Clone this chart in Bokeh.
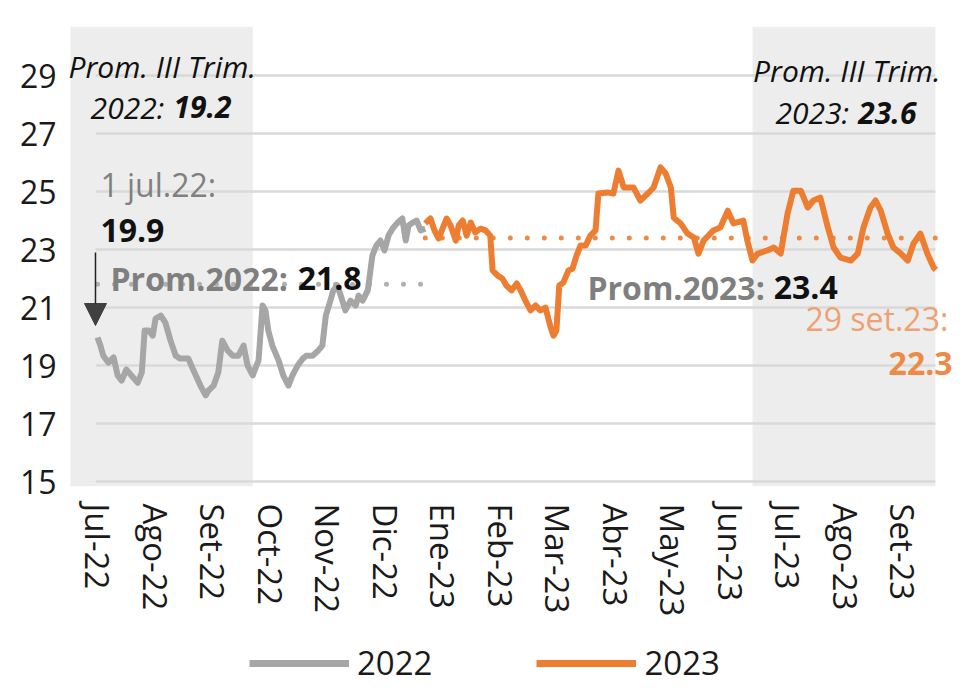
from bokeh.plotting import figure
from bokeh.layouts import column
from bokeh.models import (BoxAnnotation, Label, Arrow, NormalHead, Legend, LegendItem,
                          FixedTicker, Range1d)
from bokeh.embed import file_html
from bokeh.resources import INLINE

# ---------------- data ----------------
# x = months since Jul-2022 (tick i = month label i)
month_labels = ["Jul-22", "Ago-22", "Set-22", "Oct-22", "Nov-22", "Dic-22", "Ene-23", "Feb-23",
                "Mar-23", "Abr-23", "May-23", "Jun-23", "Jul-23", "Ago-23", "Set-23"]
y_ticks = [15, 17, 19, 21, 23, 25, 27, 29]

x_2022 = [0.00, 0.05, 0.10, 0.19, 0.28, 0.35, 0.42, 0.50, 0.59, 0.70, 0.77, 0.82, 0.89, 0.96,
          1.01, 1.10, 1.18, 1.27, 1.36, 1.44, 1.58, 1.67, 1.79, 1.88, 1.93, 2.02, 2.10, 2.17,
          2.26, 2.35, 2.45, 2.54, 2.61, 2.70, 2.75, 2.80, 2.87, 2.92, 2.97, 3.04, 3.15, 3.23,
          3.32, 3.39, 3.48, 3.57, 3.63, 3.74, 3.84, 3.91, 3.97, 4.05, 4.10, 4.17, 4.23, 4.31,
          4.40, 4.49, 4.54, 4.61, 4.70, 4.78, 4.85, 4.92, 4.99, 5.06, 5.13, 5.22, 5.30, 5.36,
          5.41, 5.48, 5.55, 5.62, 5.70]
v_2022 = [19.97, 19.69, 19.34, 19.10, 19.28, 18.66, 18.48, 18.86, 18.66, 18.41, 18.76, 20.21,
          20.21, 20.03, 20.62, 20.72, 20.48, 19.86, 19.34, 19.24, 19.24, 18.83, 18.31, 17.97,
          18.14, 18.31, 18.76, 19.86, 19.52, 19.34, 19.34, 19.69, 19.00, 18.66, 18.93, 19.17,
          21.07, 20.90, 20.21, 19.69, 19.17, 18.66, 18.31, 18.66, 19.00, 19.24, 19.34, 19.34,
          19.52, 19.69, 20.72, 21.24, 21.59, 21.76, 21.41, 20.90, 21.24, 21.07, 21.41, 21.24,
          21.59, 22.79, 23.14, 23.31, 22.97, 23.48, 23.72, 23.93, 24.07, 23.31, 23.83, 23.93,
          24.00, 23.66, 23.72]

x_2023 = [5.70, 5.79, 5.86, 5.93, 6.00, 6.07, 6.14, 6.23, 6.28, 6.35, 6.42, 6.49, 6.57, 6.66,
          6.75, 6.83, 6.87, 6.96, 7.04, 7.11, 7.20, 7.29, 7.36, 7.44, 7.53, 7.62, 7.70, 7.79,
          7.88, 7.93, 7.98, 8.03, 8.10, 8.19, 8.26, 8.33, 8.40, 8.49, 8.57, 8.66, 8.71, 8.87,
          8.97, 9.06, 9.15, 9.23, 9.32, 9.44, 9.57, 9.67, 9.79, 9.88, 9.97, 10.02, 10.14, 10.26,
          10.37, 10.45, 10.54, 10.71, 10.83, 10.96, 11.06, 11.23, 11.30, 11.39, 11.48, 11.65,
          11.76, 11.88, 12.00, 12.10, 12.23, 12.35, 12.45, 12.57, 12.70, 12.80, 12.92, 13.10,
          13.22, 13.32, 13.44, 13.53, 13.62, 13.74, 13.84, 13.97, 14.09, 14.19, 14.31, 14.43,
          14.54, 14.58]
v_2023 = [23.90, 24.07, 23.66, 23.38, 23.72, 24.07, 23.83, 23.31, 23.83, 24.00, 23.48, 23.93,
          23.59, 23.72, 23.66, 23.48, 22.28, 22.10, 22.00, 21.76, 21.59, 21.83, 21.59, 21.24,
          20.90, 21.07, 20.90, 21.00, 20.31, 20.03, 20.21, 21.76, 21.86, 22.28, 22.34, 22.79,
          23.14, 23.14, 23.48, 23.66, 24.93, 24.97, 24.93, 25.72, 25.14, 25.14, 25.14, 24.69,
          24.93, 25.14, 25.83, 25.62, 25.14, 24.10, 23.90, 23.55, 23.41, 22.86, 23.31, 23.66,
          23.76, 24.34, 23.90, 24.00, 23.31, 22.62, 22.86, 22.97, 23.07, 22.86, 24.24, 25.03,
          25.03, 24.45, 24.69, 24.79, 23.76, 23.07, 22.72, 22.62, 22.86, 23.76, 24.45, 24.69,
          24.34, 23.55, 23.07, 22.86, 22.62, 23.21, 23.55, 22.86, 22.38, 22.30]

avg_2022 = 21.8
avg_2023 = 23.4
q3_avg_2022 = 19.2
q3_avg_2023 = 23.6
first_2022 = 19.9
last_2023 = 22.3
q3_2022_end = 2.70     # end of Q3-2022 on the x scale
q3_2023_start = 11.39  # start of Q3-2023 on the x scale

GRAY = "#a6a6a6"
ORANGE = "#ed7d31"
X_LEFT, X_RIGHT = -0.47, 14.57   # visible chart area

# ---------------- main figure ----------------
p = figure(width=955, height=620, output_backend="svg", toolbar_location=None,
           x_range=Range1d(-0.574, 14.92), y_range=Range1d(14.83, 30.69),
           min_border_left=64, min_border_right=0, min_border_top=26, min_border_bottom=134)
p.outline_line_color = None
p.xgrid.visible = False
p.ygrid.visible = False

# shaded quarters
p.add_layout(BoxAnnotation(left=X_LEFT, right=q3_2022_end, fill_color="#ededed", fill_alpha=1,
                           line_color=None, level="underlay"))
p.add_layout(BoxAnnotation(left=q3_2023_start, right=X_RIGHT, fill_color="#ededed",
                           fill_alpha=1, line_color=None, level="underlay"))

# gridlines
p.segment(x0=[-0.03] * len(y_ticks), x1=[X_RIGHT] * len(y_ticks), y0=y_ticks, y1=y_ticks,
          line_color="#d9d9d9", line_width=2.5)

# average dotted lines
p.line([x_2022[0], x_2022[-1]], [avg_2022, avg_2022], line_color="#b0b0b0", line_width=5,
       line_dash="0 17", line_cap="round")
p.line([x_2023[0], x_2023[-1]], [avg_2023, avg_2023], line_color="#ee8a48", line_width=5,
       line_dash="0 17", line_cap="round")

# series
r22 = p.line(x_2022, v_2022, line_color=GRAY, line_width=6, line_join="round")
r23 = p.line(x_2023, v_2023, line_color=ORANGE, line_width=6, line_join="round")

# axes
p.yaxis.ticker = FixedTicker(ticks=y_ticks)
p.yaxis.axis_line_color = None
p.yaxis.major_tick_line_color = None
p.yaxis.minor_tick_line_color = None
p.yaxis.major_label_standoff = 2
p.yaxis.major_label_text_font = "Open Sans"
p.yaxis.major_label_text_font_size = "32px"
p.yaxis.major_label_text_color = "#1a1a1a"

p.xaxis.ticker = FixedTicker(ticks=list(range(len(month_labels))))
p.xaxis.major_label_overrides = {i: lab for i, lab in enumerate(month_labels)}
p.xaxis.major_label_orientation = "vertical"
p.xaxis.axis_line_color = None
p.xaxis.major_tick_line_color = None
p.xaxis.minor_tick_line_color = None
p.xaxis.major_label_standoff = 11
p.xaxis.major_label_text_font = "Open Sans"
p.xaxis.major_label_text_font_size = "33px"
p.xaxis.major_label_text_color = "#1a1a1a"

# annotations
def lab(x, y, text, color="#111111", style="normal", size="32px", align="left", font="Open Sans"):
    p.add_layout(Label(x=x, y=y, text=text, text_color=color, text_font_style=style,
                       text_font_size=size, text_align=align, text_baseline="alphabetic",
                       text_font=font))

lab(-0.504, 29.31, "Prom. III Trim.", style="italic", size="30px")
lab(-0.12, 27.90, "2022: ", style="italic", size="30px")
lab(1.32, 27.90, f"{q3_avg_2022}", style="bold italic", size="30px")

lab(14.66, 29.17, "Prom. III Trim.", style="italic", size="30px", align="right")
lab(11.79, 27.72, "2023: ", style="italic", size="30px")
lab(13.23, 27.72, f"{q3_avg_2023}", style="bold italic", size="30px")

lab(0.05, 25.24, "1 jul.22:", color="#808080")
lab(0.05, 23.66, f"{first_2022}", style="bold")

lab(0.226, 22.0, "Prom.2022: ", color="#7f7f7f", style="bold")
lab(3.48, 22.0, f"{avg_2022}", style="bold")

lab(8.52, 21.69, "Prom.2023: ", color="#7f7f7f", style="bold")
lab(11.76, 21.69, f"{avg_2023}", style="bold")

lab(12.31, 20.62, "29 set.23:", color="#eea273")
lab(14.87, 19.07, f"{last_2023}", color="#ec8a46", style="bold", align="right")

p.add_layout(Arrow(x_start=-0.035, y_start=22.9, x_end=-0.035, y_end=20.38,
                   line_color="#222222", line_width=1.5,
                   end=NormalHead(size=22, fill_color="#404040", line_color="#404040")))

# ---------------- legend figure (series drawn outside its view, legend only) ----------------
pl = figure(width=955, height=69, output_backend="svg", toolbar_location=None,
            x_range=Range1d(100, 200), y_range=Range1d(100, 200), min_border=0,
            x_axis_type=None, y_axis_type=None)
pl.outline_line_color = None
pl.xgrid.visible = False
pl.ygrid.visible = False
leg22 = pl.line(x_2022, v_2022, line_color=GRAY, line_width=7)
leg23 = pl.line(x_2023, v_2023, line_color=ORANGE, line_width=7)
legend = Legend(items=[LegendItem(label="2022", renderers=[leg22]),
                       LegendItem(label="2023", renderers=[leg23])],
                orientation="horizontal", location=(185, 4),
                glyph_width=100, glyph_height=40, label_standoff=8, spacing=104,
                padding=0, margin=0, border_line_color=None, background_fill_alpha=0,
                label_text_font="Open Sans", label_text_font_size="33px",
                label_text_color="#1a1a1a", label_text_baseline="middle")
pl.add_layout(legend)

open("out.html", "w").write(file_html(column(p, pl, spacing=0), INLINE))
